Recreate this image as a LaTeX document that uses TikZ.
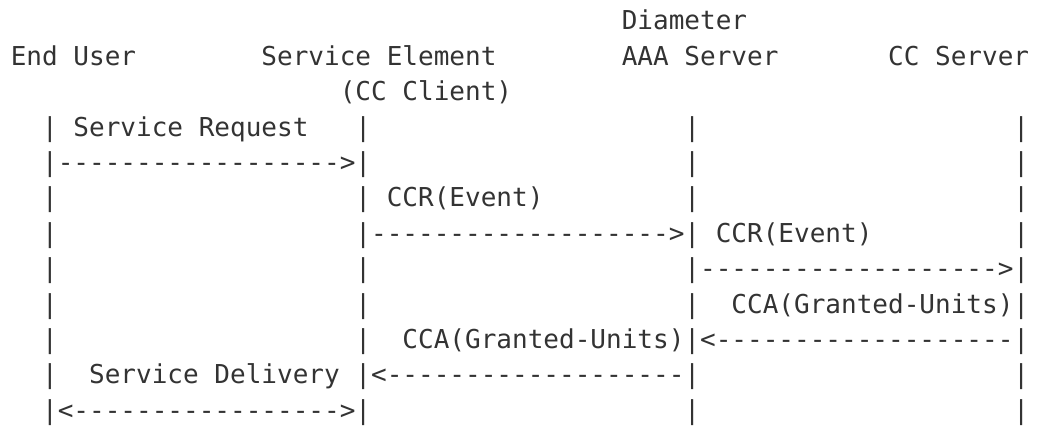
\documentclass[tikz,border=0pt]{standalone}
\usepackage{fontspec}
\setmonofont{DejaVu Sans Mono}
\usepackage{xcolor}
\usepackage{tikz}
\definecolor{ink}{HTML}{333333}

\begin{document}
\begin{tikzpicture}[
    x=11.75pt, y=-26.55pt,
    txt/.style={anchor=base west, inner sep=0pt, outer sep=0pt, text=ink, font=\fontsize{19.52}{24}\selectfont\ttfamily}
]
\useasboundingbox (-8.1pt,22.4pt) rectangle (771.9pt,-298.4pt);

% Header
\node (diameter) [txt] at (39,0) {Diameter};
\node (enduser) [txt] at (0,1) {End User};
\node (element) [txt] at (16,1) {Service Element};
\node (aaa) [txt] at (39,1) {AAA Server};
\node (ccserver) [txt] at (56,1) {CC Server};
\node (client) [txt] at (21,2) {(CC Client)};

% Lifelines
\foreach \c in {2,22,43,64}
  \foreach \r in {3,...,11}
    \node (bar-\c-\r) [txt] at (\c,\r) {|};

% Messages
\node (request) [txt] at (4,3) {Service Request};
\node (reqarrow) [txt] at (3,4) {------------------>};
\node (ccr1) [txt] at (24,5) {CCR(Event)};
\node (ccr1arrow) [txt] at (23,6) {------------------->};
\node (ccr2) [txt] at (45,6) {CCR(Event)};
\node (ccr2arrow) [txt] at (44,7) {------------------->};
\node (cca1) [txt] at (46,8) {CCA(Granted-Units)};
\node (cca1arrow) [txt] at (44,9) {<-------------------};
\node (cca2) [txt] at (25,9) {CCA(Granted-Units)};
\node (cca2arrow) [txt] at (23,10) {<-------------------};
\node (delivery) [txt] at (5,10) {Service Delivery};
\node (delarrow) [txt] at (3,11) {<----------------->};

\end{tikzpicture}
\end{document}
